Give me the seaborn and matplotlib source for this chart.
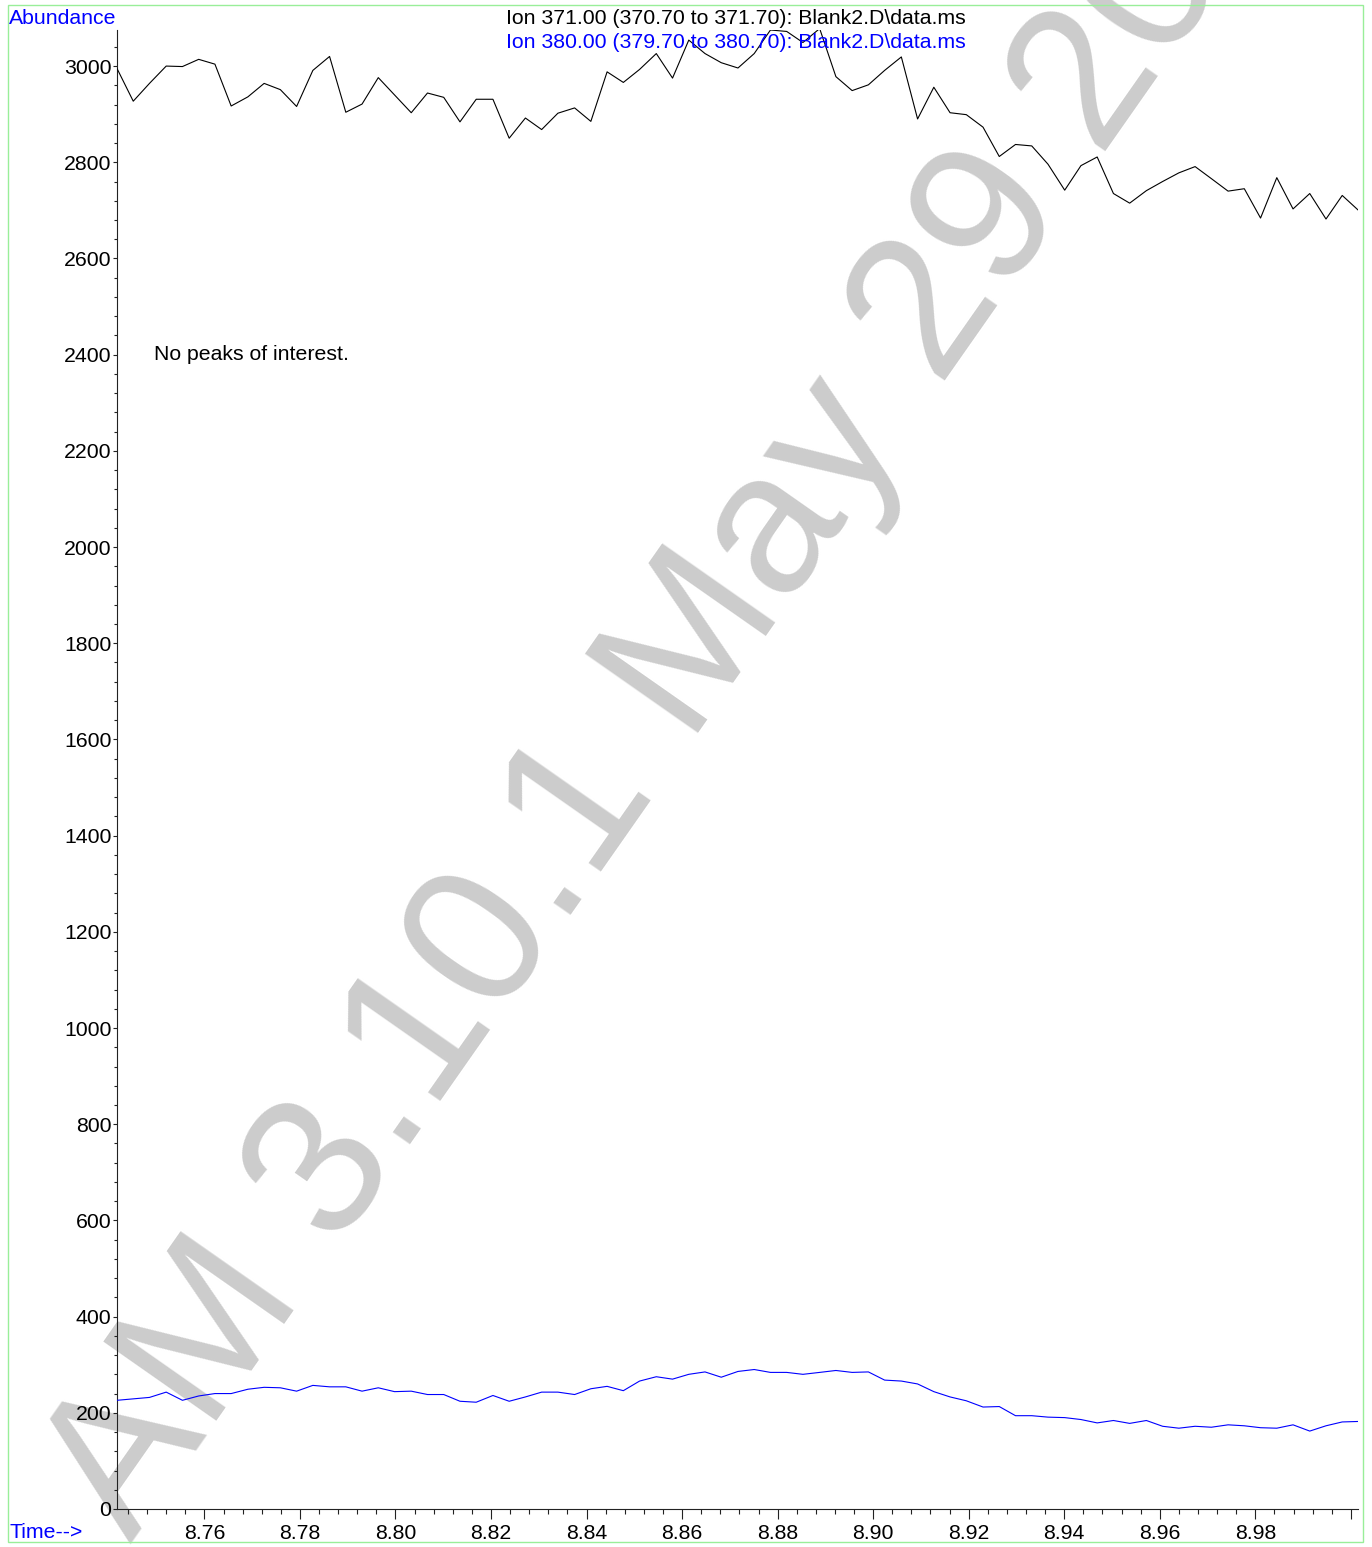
import numpy as np
import pandas as pd
import matplotlib
matplotlib.use("Agg")
import matplotlib.pyplot as plt
from matplotlib.patches import Rectangle
from matplotlib.ticker import MultipleLocator
import seaborn as sns

# scan times (min) and abundances
times = [8.7417, 8.7451, 8.7485, 8.7520, 8.7554, 8.7588, 8.7622, 8.7656, 8.7691, 8.7725,
         8.7759, 8.7793, 8.7827, 8.7862, 8.7896, 8.7930, 8.7964, 8.7998, 8.8033, 8.8067,
         8.8101, 8.8135, 8.8169, 8.8204, 8.8238, 8.8272, 8.8306, 8.8340, 8.8375, 8.8409,
         8.8443, 8.8477, 8.8511, 8.8546, 8.8580, 8.8614, 8.8648, 8.8682, 8.8717, 8.8751,
         8.8785, 8.8819, 8.8853, 8.8888, 8.8922, 8.8956, 8.8990, 8.9024, 8.9059, 8.9093,
         8.9127, 8.9161, 8.9195, 8.9230, 8.9264, 8.9298, 8.9332, 8.9366, 8.9401, 8.9435,
         8.9469, 8.9503, 8.9537, 8.9572, 8.9606, 8.9640, 8.9674, 8.9708, 8.9743, 8.9777,
         8.9811, 8.9845, 8.9879, 8.9914, 8.9948, 8.9982, 9.0016]

ion_371 = [2995, 2927, 2964, 3000, 2999, 3014, 3004, 2917, 2936, 2964,
           2951, 2916, 2991, 3020, 2904, 2921, 2976, 2940, 2903, 2944,
           2935, 2884, 2931, 2931, 2850, 2892, 2868, 2902, 2913, 2885,
           2988, 2966, 2993, 3026, 2975, 3054, 3026, 3007, 2996, 3026,
           3075, 3072, 3049, 3078, 2978, 2949, 2961, 2991, 3019, 2890,
           2956, 2903, 2899, 2873, 2812, 2837, 2834, 2796, 2742, 2793,
           2811, 2735, 2715, 2741, 2760, 2778, 2791, 2766, 2740, 2745,
           2684, 2768, 2703, 2735, 2682, 2731, 2700]

ion_380 = [226, 229, 232, 243, 226, 235, 240, 240, 249, 253,
           252, 245, 257, 254, 254, 245, 252, 244, 245, 238,
           238, 224, 222, 236, 224, 233, 243, 243, 238, 250,
           255, 246, 266, 275, 270, 280, 285, 274, 286, 290,
           284, 284, 280, 284, 288, 284, 285, 268, 266, 260,
           244, 233, 225, 212, 213, 194, 194, 191, 190, 186,
           179, 184, 178, 184, 172, 168, 172, 170, 175, 173,
           169, 168, 175, 162, 173, 181, 182]

x_ticks = [8.76, 8.78, 8.80, 8.82, 8.84, 8.86, 8.88, 8.90, 8.92, 8.94, 8.96, 8.98, 9.00]
x_labels = ["8.76", "8.78", "8.80", "8.82", "8.84", "8.86", "8.88", "8.90",
            "8.92", "8.94", "8.96", "8.98", ""]
y_ticks = list(range(0, 3001, 200))

df = pd.DataFrame({"Time": times, "Ion 371": ion_371, "Ion 380": ion_380})

sns.set_style("white")
plt.rcParams["font.family"] = ["Liberation Sans", "DejaVu Sans"]

FS = 15.3
W, H = 1372, 1547
fig = plt.figure(figsize=(W / 100, H / 100), dpi=100)
ax = fig.add_axes([117 / W, 1 - 1509 / H, (1358 - 117) / W, (1509 - 30) / H])
ax.patch.set_alpha(0)

sns.lineplot(data=df, x="Time", y="Ion 371", color="black", linewidth=0.8, ax=ax, zorder=3)
sns.lineplot(data=df, x="Time", y="Ion 380", color="#0000ff", linewidth=0.8, ax=ax, zorder=3)

ax.set_xlim(8.7417, 9.0015)
ax.set_ylim(0, 3075)
ax.set_xlabel("")
ax.set_ylabel("")
for s in ["top", "right"]:
    ax.spines[s].set_visible(False)
for s in ["left", "bottom"]:
    ax.spines[s].set_color("#222222")
    ax.spines[s].set_linewidth(0.8)

ax.set_xticks(x_ticks)
ax.set_xticklabels(x_labels)
ax.set_yticks(y_ticks)
ax.xaxis.set_minor_locator(MultipleLocator(0.004))
ax.yaxis.set_minor_locator(MultipleLocator(40))
ax.tick_params(axis="x", which="major", length=7.5, width=0.8, pad=3, labelsize=FS,
               color="#222222", labelcolor="black")
ax.tick_params(axis="x", which="minor", length=3.5, width=0.8, color="#222222")
ax.tick_params(axis="y", which="major", length=3, width=0.8, pad=1, labelsize=FS,
               color="#222222", labelcolor="black")
ax.tick_params(axis="y", which="minor", length=2, width=0.8, color="#222222")
ax.tick_params(bottom=True, left=True, which="both")

# watermark behind the traces
ax.text(131 / W, 1 - 1544 / H, "AM 3.10.1 May 29 2025", transform=fig.transFigure,
        rotation=55, rotation_mode="anchor", ha="left", va="baseline",
        fontsize=145, color="#cccccc", zorder=0.5, clip_on=False)

fig.text(9 / W, 1 - 18 / H, "Abundance", color="#0000ff", fontsize=FS, va="center")
fig.text(9 / W, 1 - 1533 / H, "Time-->", color="#0000ff", fontsize=FS, va="center")
fig.text(506 / W, 1 - 18 / H, "Ion 371.00 (370.70 to 371.70): Blank2.D\\data.ms",
         color="black", fontsize=FS, va="center", zorder=5)
fig.text(506 / W, 1 - 42 / H, "Ion 380.00 (379.70 to 380.70): Blank2.D\\data.ms",
         color="#0000ff", fontsize=FS, va="center", zorder=5)
fig.text(154 / W, 1 - 354 / H, "No peaks of interest.", color="black", fontsize=FS, va="center")

fig.patches.append(Rectangle((8 / W, 1 - 1542 / H), (1363 - 8) / W, (1542 - 5) / H,
                             transform=fig.transFigure, fill=False,
                             edgecolor="#99ee99", linewidth=1))

fig.savefig("out.png", dpi=100)
